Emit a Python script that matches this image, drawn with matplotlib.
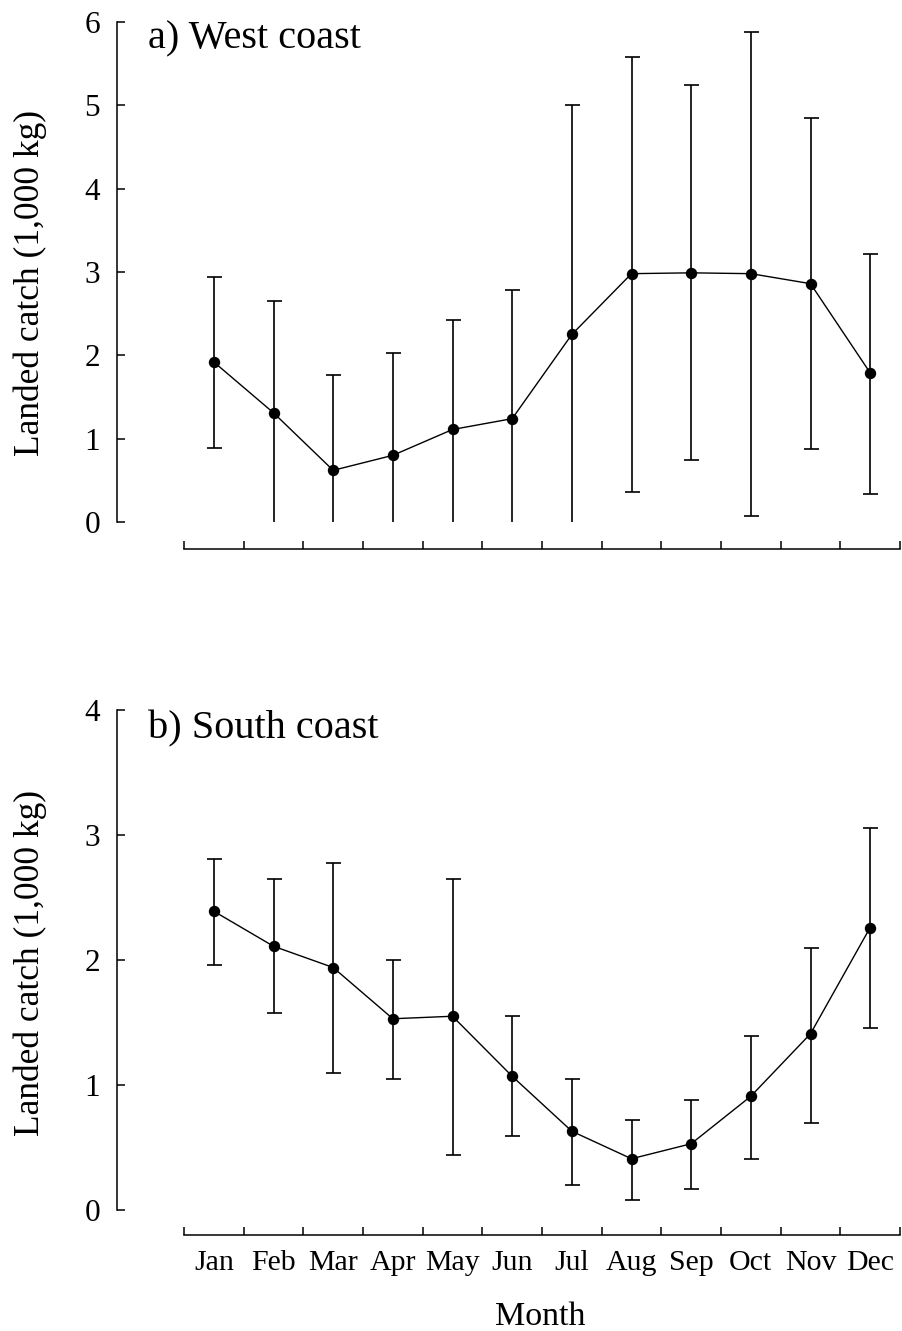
import numpy as np
import matplotlib
matplotlib.use("Agg")
import matplotlib.pyplot as plt

plt.rcParams["font.family"] = ["Liberation Serif", "DejaVu Serif"]

months = ["Jan", "Feb", "Mar", "Apr", "May", "Jun",
          "Jul", "Aug", "Sep", "Oct", "Nov", "Dec"]

# West coast: monthly mean landed catch (1,000 kg) with interval bounds
west_mean = [1.92, 1.31, 0.62, 0.80, 1.11, 1.24, 2.25, 2.98, 2.99, 2.98, 2.86, 1.79]
west_upper = [2.94, 2.65, 1.76, 2.03, 2.42, 2.78, 5.00, 5.58, 5.24, 5.88, 4.85, 3.22]
west_lower = [0.89, 0.00, 0.00, 0.00, 0.00, 0.00, 0.00, 0.36, 0.74, 0.07, 0.88, 0.34]

# South coast
south_mean = [2.39, 2.11, 1.94, 1.53, 1.55, 1.07, 0.63, 0.41, 0.53, 0.91, 1.41, 2.26]
south_upper = [2.81, 2.65, 2.78, 2.00, 2.65, 1.55, 1.05, 0.72, 0.88, 1.39, 2.10, 3.06]
south_lower = [1.96, 1.58, 1.10, 1.05, 0.44, 0.59, 0.20, 0.08, 0.17, 0.41, 0.70, 1.46]

panels = [
    ("a) West coast", west_mean, west_lower, west_upper, 6),
    ("b) South coast", south_mean, south_lower, south_upper, 4),
]

W, H = 902, 1331
fig = plt.figure(figsize=(W / 100, H / 100), dpi=100)

px = 72 / 100  # points per pixel

# axes boxes in pixel space: (left, top, right, bottom)
boxes = [(184, 22, 900, 522), (184, 710, 900, 1210)]
xspine_off = [27, 25]
title_baselines = [48, 738]
label_centres = [283, 963]

for i, ((title, mean, lower, upper, ymax), box) in enumerate(zip(panels, boxes)):
    l, t, r, b = box
    ax = fig.add_axes([l / W, (H - b) / H, (r - l) / W, (b - t) / H])
    x = np.arange(len(months)) + 0.5
    mean = np.asarray(mean)
    lower = np.asarray(lower)
    upper = np.asarray(upper)

    # interval lines
    ax.vlines(x, lower, upper, color="black", lw=1.2, zorder=2)
    # caps at the upper ends, and at lower ends that stay above zero
    cap = dict(marker="_", ms=15 * px, mew=1.2, color="black", ls="none", zorder=2)
    ax.plot(x, upper, **cap)
    keep = lower > 0
    ax.plot(x[keep], lower[keep], **cap)
    # mean line with markers
    ax.plot(x, mean, color="black", lw=1.0, zorder=3)
    ax.plot(x, mean, "o", color="black", ms=10 * px, zorder=4)

    ax.set_xlim(0, 12)
    ax.set_ylim(0, ymax)

    for s in ["top", "right"]:
        ax.spines[s].set_visible(False)
    ax.spines["left"].set_position(("outward", 67 * px))
    ax.spines["bottom"].set_position(("outward", xspine_off[i] * px))
    ax.spines["left"].set_bounds(0, ymax)
    ax.spines["left"].set_linewidth(1.1)
    ax.spines["bottom"].set_linewidth(1.1)

    ax.set_yticks(range(ymax + 1))
    ax.tick_params(axis="y", direction="in", length=8 * px, width=1.1,
                   labelsize=22.5, pad=17 * px)
    ax.set_xticks(range(13))
    ax.set_xticklabels([])
    ax.tick_params(axis="x", which="major", direction="in", length=8 * px,
                   width=1.1)
    ax.set_xticks(x, minor=True)
    if i == 1:
        ax.set_xticklabels(months, minor=True)
    ax.tick_params(axis="x", which="minor", length=0, labelsize=21.5,
                   pad=15 * px)

    ax.text((148 - l) / (r - l), (b - title_baselines[i]) / (b - t),
            title, transform=ax.transAxes, fontsize=29, ha="left",
            va="baseline")

    fig.text(30 / W, (H - label_centres[i]) / H, "Landed catch (1,000 kg)",
             rotation=90, ha="center", va="center", fontsize=25.5)

fig.text(540 / W, (H - 1325) / H, "Month", ha="center", va="baseline",
         fontsize=24.5)

fig.savefig("out.png", dpi=100)
